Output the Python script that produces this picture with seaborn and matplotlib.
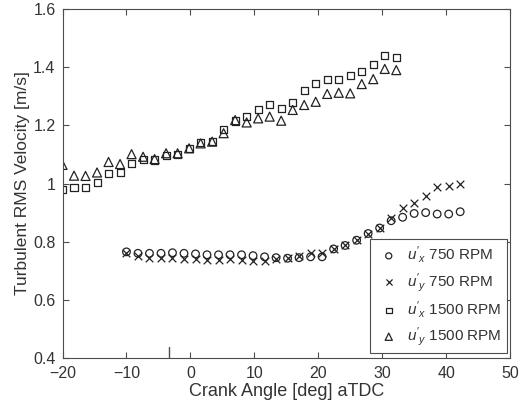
import numpy as np
import pandas as pd
import matplotlib
matplotlib.use("Agg")
import matplotlib.pyplot as plt
from matplotlib.ticker import FormatStrFormatter
import seaborn as sns

# crank angles (deg aTDC), 1.8 deg spacing
angle_750 = np.round(np.arange(30) * 1.8 - 10, 1)
angle_1500 = np.round(np.arange(30) * 1.8 - 20, 1)

ux_750 = [0.765, 0.760, 0.760, 0.760, 0.762, 0.760, 0.758, 0.755, 0.755, 0.755,
          0.755, 0.752, 0.748, 0.745, 0.743, 0.745, 0.748, 0.748, 0.775, 0.787,
          0.805, 0.828, 0.847, 0.872, 0.884, 0.897, 0.900, 0.895, 0.895, 0.903]
uy_750 = [0.760, 0.750, 0.745, 0.745, 0.743, 0.740, 0.740, 0.738, 0.737, 0.740,
          0.738, 0.735, 0.735, 0.740, 0.743, 0.750, 0.760, 0.760, 0.775, 0.787,
          0.805, 0.828, 0.847, 0.880, 0.915, 0.932, 0.958, 0.987, 0.990, 1.000]
ux_1500 = [0.978, 0.986, 0.986, 1.003, 1.035, 1.038, 1.069, 1.083, 1.081, 1.096,
           1.100, 1.120, 1.140, 1.145, 1.187, 1.215, 1.232, 1.253, 1.273, 1.257,
           1.278, 1.321, 1.344, 1.358, 1.359, 1.372, 1.384, 1.410, 1.439, 1.433]
uy_1500 = [1.064, 1.027, 1.026, 1.038, 1.074, 1.067, 1.101, 1.092, 1.084, 1.104,
           1.104, 1.121, 1.138, 1.144, 1.173, 1.218, 1.210, 1.224, 1.230, 1.216,
           1.253, 1.270, 1.281, 1.308, 1.312, 1.310, 1.342, 1.359, 1.394, 1.390]

labels = [r"$u'_{x}$ 750 RPM", r"$u'_{y}$ 750 RPM",
          r"$u'_{x}$ 1500 RPM", r"$u'_{y}$ 1500 RPM"]
tdc_mark = -3.3

sns.set_style("ticks")
plt.rcParams["font.family"] = ["Liberation Sans", "DejaVu Sans"]
plt.rcParams["mathtext.fontset"] = "custom"
plt.rcParams["mathtext.rm"] = "Liberation Sans"
plt.rcParams["mathtext.it"] = "Liberation Sans:italic"

gray = "#4d4d4d"
DF = pd.concat([
    pd.DataFrame({"angle": angle_750, "vel": ux_750, "series": labels[0]}),
    pd.DataFrame({"angle": angle_750, "vel": uy_750, "series": labels[1]}),
    pd.DataFrame({"angle": angle_1500, "vel": ux_1500, "series": labels[2]}),
    pd.DataFrame({"angle": angle_1500, "vel": uy_1500, "series": labels[3]}),
])

fig = plt.figure(figsize=(5.21, 4.16), dpi=100)
ax = fig.add_axes([0.12, 0.1394, 0.859, 0.8389])

styles = {labels[0]: dict(marker="o", s=30),
          labels[1]: dict(marker="x", s=30),
          labels[2]: dict(marker="s", s=26),
          labels[3]: dict(marker="^", s=42)}
for lab in labels:
    kw = styles[lab]
    sub = DF[DF["series"] == lab]
    if kw["marker"] == "x":
        sns.scatterplot(data=sub, x="angle", y="vel", ax=ax, color="#222222",
                        linewidth=0.9, label=lab, **kw)
    else:
        sns.scatterplot(data=sub, x="angle", y="vel", ax=ax, facecolor="none",
                        edgecolor="#222222", linewidth=0.9, label=lab, **kw)

ax.plot([tdc_mark, tdc_mark], [0.4, 0.437], color=gray, lw=1)

ax.set_xlim(-20, 50)
ax.set_ylim(0.4, 1.6)
ax.set_xticks(np.arange(-20, 51, 10))
ax.set_yticks(np.arange(0.4, 1.61, 0.2))
ax.yaxis.set_major_formatter(FormatStrFormatter("%g"))
ax.tick_params(direction="in", length=4, width=0.8, colors=gray,
               labelsize=11.5, top=True, right=True, labelcolor="#333333")
ax.tick_params(axis="x", pad=6)
ax.tick_params(axis="y", pad=5)
for sp in ax.spines.values():
    sp.set_visible(True)
    sp.set_color(gray)
    sp.set_linewidth(0.8)
ax.set_xlabel("Crank Angle [deg] aTDC", fontsize=13, color="#333333", labelpad=1)
ax.set_ylabel("Turbulent RMS Velocity [m/s]", fontsize=12.5, color="#333333",
              labelpad=2)

leg = ax.legend(loc="lower right", bbox_to_anchor=(0.993, 0.013), fontsize=11,
                frameon=True, fancybox=False, framealpha=1, edgecolor=gray,
                markerscale=0.8, labelspacing=0.35, handletextpad=0.3,
                handlelength=1.8, borderpad=0.35, borderaxespad=0)
leg.get_frame().set_linewidth(0.8)
for t in leg.get_texts():
    t.set_color("#333333")

fig.savefig("out.png", dpi=100)
